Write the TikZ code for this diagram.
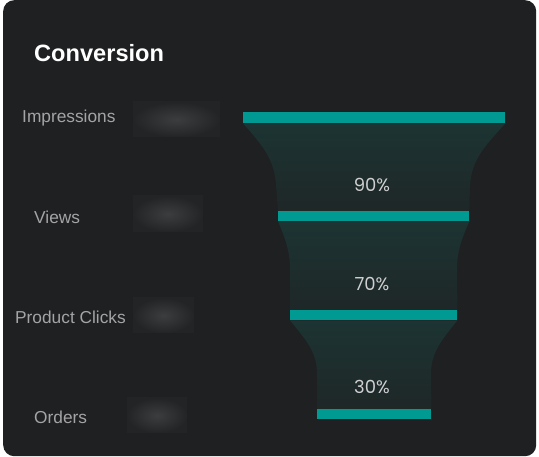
\documentclass[tikz,border=0pt]{standalone}
\usepackage{fontspec}
\setmainfont{Liberation Sans}
\newfontfamily\pctfont{Poppins}
\pgfdeclarelayer{bottom}
\pgfdeclarelayer{background}
\pgfsetlayers{bottom,background,main}
\definecolor{cardbg}{HTML}{1F2022}
\definecolor{barteal}{HTML}{009A93}
\definecolor{funtop}{HTML}{1C3433}
\definecolor{funbot}{HTML}{1F2727}
\definecolor{lbl}{HTML}{A4A4A6}
\definecolor{pct}{HTML}{CFCFD0}
\definecolor{blurin}{HTML}{3C3D3F}
\definecolor{blurout}{HTML}{232426}
\tikzset{
  bar/.style={fill=barteal, draw=none, inner sep=0pt, anchor=north west},
  funnel/.style={top color=funtop, bottom color=funbot, draw=none},
  rowlabel/.style={text=lbl, font=\fontsize{17.3}{19}\selectfont, inner sep=0pt, anchor=west},
  pctlabel/.style={text=pct, font=\pctfont\fontsize{18}{20}\selectfont, inner sep=0pt},
  blurbox/.style={inner color=blurin, outer color=blurout, draw=none},
}
\begin{document}
\begin{tikzpicture}[x=1pt,y=-1pt]
\useasboundingbox (0,0) rectangle (539,457);
\begin{pgfonlayer}{bottom}
\fill[white] (0,0) rectangle (539,457);
\node[fill=cardbg, rounded corners=11pt, minimum width=533pt, minimum height=456pt, inner sep=0pt, anchor=north west] (card) at (3,0) {};
\end{pgfonlayer}
% title
\node[text=white, font=\bfseries\fontsize{23.6}{27}\selectfont, inner sep=0pt, anchor=west] (title) at (34,53) {Conversion};
% bars
\node[bar, minimum width=262pt, minimum height=11pt] (bar1) at (243,112) {};
\node[bar, minimum width=191pt, minimum height=10pt] (bar2) at (278,211) {};
\node[bar, minimum width=167pt, minimum height=10pt] (bar3) at (290,310) {};
\node[bar, minimum width=114pt, minimum height=10pt] (bar4) at (317,409) {};
% funnels
\begin{pgfonlayer}{background}
\path[funnel] (bar1.south west) .. controls (265,148) and (274,160) .. (276,185) -- (bar2.north west)
  -- (bar2.north east) -- (470,185) .. controls (472,160) and (483,148) .. (bar1.south east) -- cycle;
\path[funnel] (bar2.south west) .. controls (286,240) and (290,252) .. (290,270) -- (bar3.north west)
  -- (bar3.north east) -- (457,270) .. controls (457,252) and (461,240) .. (bar2.south east) -- cycle;
\path[funnel] (bar3.south west) .. controls (308,342) and (316,352) .. (317,372) -- (bar4.north west)
  -- (bar4.north east) -- (431,372) .. controls (432,352) and (440,342) .. (bar3.south east) -- cycle;
\end{pgfonlayer}
% percentages
\node[pctlabel] (p1) at (372,185) {90\%};
\node[pctlabel] (p2) at (372,284) {70\%};
\node[pctlabel] (p3) at (372,387) {30\%};
% row labels
\node[rowlabel] (l1) at (22,118.5) {Impressions};
\node[rowlabel] (l2) at (34,217.5) {Views};
\node[rowlabel] (l3) at (15,317.5) {Product Clicks};
\node[rowlabel] (l4) at (34,417.5) {Orders};
% blurred values
\path[blurbox] (133,102) rectangle (220,137);
\path[blurbox] (133,196) rectangle (203,232);
\path[blurbox] (133,298) rectangle (194,333);
\path[blurbox] (127,398) rectangle (187,433);
\end{tikzpicture}
\end{document}
